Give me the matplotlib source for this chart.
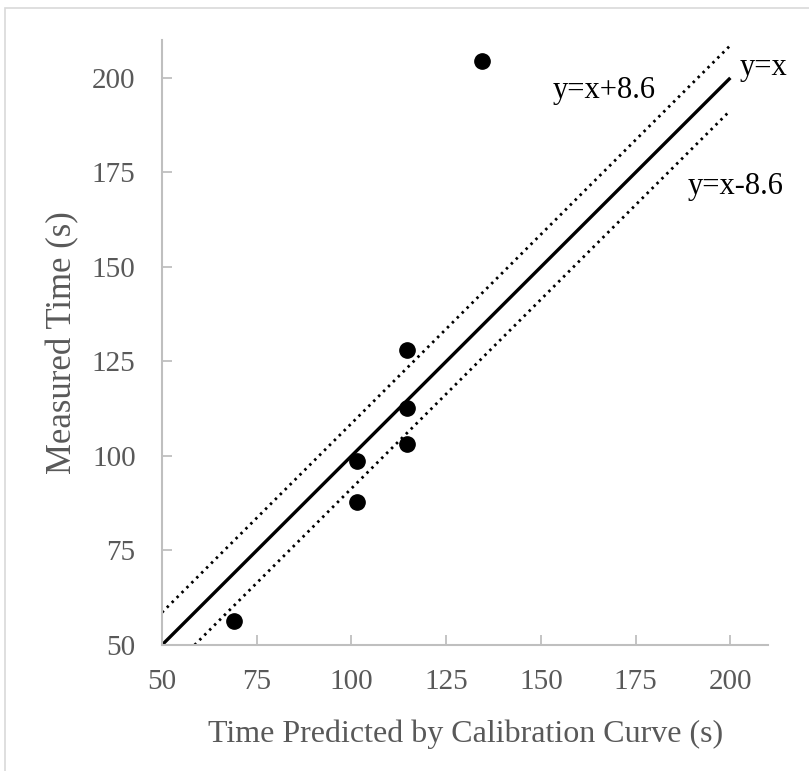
import matplotlib.pyplot as plt
from matplotlib.patches import Rectangle

plt.rcParams['font.family'] = ['Liberation Serif', 'DejaVu Serif']

# Predicted vs measured times
predicho = [69, 101.5, 101.5, 114.6, 114.6, 114.6, 134.4]
medido = [56.3, 98.8, 87.7, 128.1, 112.8, 103.3, 204.4]

# Reference lines
linea_x = [50, 200]
desvio = 8.6

ticks = [50, 75, 100, 125, 150, 175, 200]
gris = '#595959'
gris_eje = '#bfbfbf'

fig = plt.figure(figsize=(8.09, 7.71), dpi=100)
ax = fig.add_axes([0.2002, 0.1634, 0.7494, 0.7846])

# Marco del gráfico
fig.patches.append(Rectangle((5 / 809, -0.1), 1.2, (771 - 8) / 771 + 0.1,
                             transform=fig.transFigure, fill=False,
                             edgecolor='#d9d9d9', linewidth=1.2))

punteado = (0, (0.9, 1.6))
ax.plot(linea_x, linea_x, color='black', lw=2.4, solid_capstyle='butt')
ax.plot(linea_x, [v + desvio for v in linea_x], color='black', lw=2,
        linestyle=punteado)
ax.plot([linea_x[0] + desvio, linea_x[1]], [linea_x[0], linea_x[1] - desvio],
        color='black', lw=2, linestyle=punteado)
ax.plot(predicho, medido, 'o', color='black', markersize=11, zorder=3)

ax.text(202.5, 202.8, 'y=x', fontsize=22, va='center', ha='left')
ax.text(153.2, 196.6, 'y=x+8.6', fontsize=22, va='center', ha='left')
ax.text(188.7, 171.4, 'y=x-8.6', fontsize=22, va='center', ha='left')

ax.set_xlim(50, 210)
ax.set_ylim(50, 210)
ax.set_xticks(ticks)
ax.set_yticks(ticks)
ax.tick_params(direction='in', length=7, width=1.3, color=gris_eje,
               labelcolor=gris, labelsize=21)
ax.tick_params(axis='x', pad=17)
ax.tick_params(axis='y', pad=19)

for lado in ['top', 'right']:
    ax.spines[lado].set_visible(False)
for lado in ['left', 'bottom']:
    ax.spines[lado].set_color(gris_eje)
    ax.spines[lado].set_linewidth(1.5)

ax.set_xlabel('Time Predicted by Calibration Curve (s)', fontsize=23,
              color=gris, labelpad=18)
ax.set_ylabel('Measured Time (s)', fontsize=25, color=gris, labelpad=9)

fig.savefig('out.png', dpi=100)
